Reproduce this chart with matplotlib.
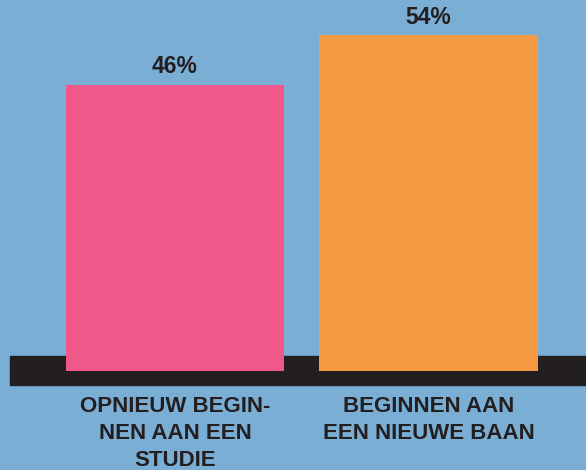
import matplotlib.pyplot as plt

categories = ["OPNIEUW BEGIN-\nNEN AAN EEN\nSTUDIE", "BEGINNEN AAN\nEEN NIEUWE BAAN"]
values = [46, 54]
value_labels = ["46%", "54%"]
colors = ["#EF5889", "#F59A40"]

bg = "#7BAED5"
dark = "#231F20"

plt.rcParams["font.family"] = ["Liberation Sans", "DejaVu Sans"]

fig = plt.figure(figsize=(5.86, 4.70), dpi=100)
fig.patch.set_facecolor(bg)
ax = fig.add_axes([0, 0, 1, 1])
ax.set_facecolor(bg)

x = list(range(len(categories)))
bars = ax.bar(x, values, width=0.86, color=colors, zorder=3)

# black base strip behind the bars
ax.axhspan(-2.25, 2.4, xmin=0.017, xmax=1.0, color=dark, zorder=2)

for rect, lab in zip(bars, value_labels):
    ax.annotate(lab, (rect.get_x() + rect.get_width() / 2, rect.get_height()),
                xytext=(0, 4.5), textcoords="offset points",
                ha="center", va="bottom", fontsize=16.5, fontweight="bold", color=dark)

for xi, cat in zip(x, categories):
    ax.annotate(cat, (xi, 0), xytext=(0, -18), textcoords="offset points",
                ha="center", va="top", fontsize=16, fontweight="bold",
                color=dark, linespacing=1.4)

ax.set_xlim(-0.690, 1.621)
ax.set_ylim(-15.97, 59.6)
ax.axis("off")

fig.savefig("out.png", dpi=100, facecolor=bg)
